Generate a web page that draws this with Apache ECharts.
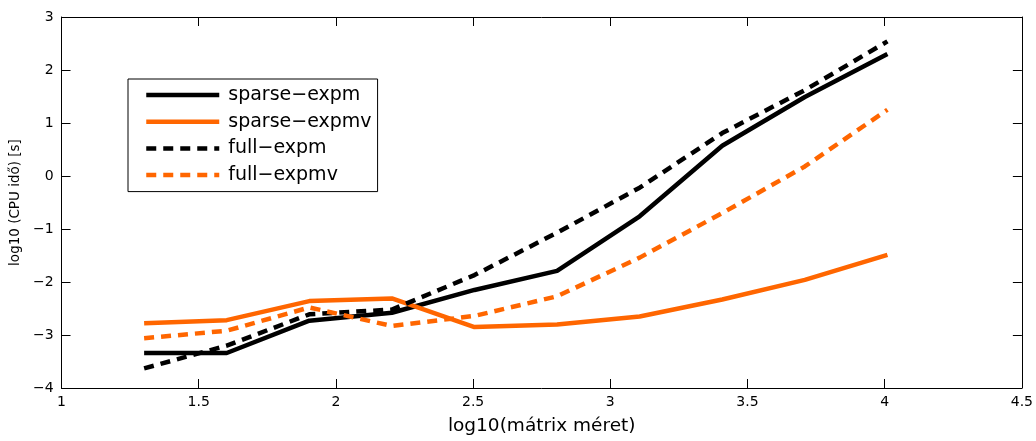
<!DOCTYPE html>
<html><head><meta charset="utf-8">
<script src="https://cdn.jsdelivr.net/npm/echarts@6/dist/echarts.min.js"></script>
<style>html,body{margin:0;padding:0;background:#fff;overflow:hidden}#c{width:1036px;height:441px}</style>
</head><body><div id="c"></div>
<script>
const xVals = [1.301, 1.602, 1.903, 2.204, 2.505, 2.806, 3.107, 3.408, 3.709, 4.010];
const sparseExpm  = [-3.34, -3.34, -2.73, -2.58, -2.15, -1.79, -0.76, 0.57, 1.49, 2.30];
const sparseExpmv = [-2.78, -2.72, -2.36, -2.31, -2.85, -2.80, -2.65, -2.33, -1.96, -1.49];
const fullExpm    = [-3.63, -3.20, -2.61, -2.52, -1.87, -1.07, -0.22, 0.81, 1.62, 2.54];
const fullExpmv   = [-3.06, -2.92, -2.48, -2.83, -2.64, -2.27, -1.54, -0.70, 0.18, 1.25];
const seriesNames = ['sparse\u2212expm', 'sparse\u2212expmv', 'full\u2212expm', 'full\u2212expmv'];
const xTitle = 'log10(mátrix méret)';
const yTitle = 'log10 (CPU idő) [s]';

const BLACK = '#000000', ORANGE = '#ff6600';
const FONT = '"DejaVu Sans", Verdana, sans-serif';
const pair = ys => xVals.map((x, i) => [x, ys[i]]);
const minus = v => String(v).replace('-', '\u2212');

const axisCommon = {
  axisLine: {show: true, onZero: false, lineStyle: {color: '#000', width: 1}},
  axisTick: {show: true, inside: true, length: 9, lineStyle: {color: '#000', width: 1}},
  splitLine: {show: false}
};
function mk(name, data, color, dashed) {
  return {
    name, type: 'line', data: pair(data), symbol: 'none', xAxisIndex: 0, yAxisIndex: 0,
    lineStyle: {color, width: 4.5, type: dashed ? [10, 7] : 'solid'},
    itemStyle: {color}, animation: false
  };
}
const chart = echarts.init(document.getElementById('c'));
chart.setOption({
  backgroundColor: '#fff',
  animation: false,
  textStyle: {fontFamily: FONT},
  grid: {left: 56, right: 13, top: 17, bottom: 46, containLabel: false},
  legend: {
    orient: 'vertical', left: 128, top: 79,
    itemWidth: 73, itemHeight: 19, itemGap: 7.7,
    padding: [6.5, 6, 7, 16],
    borderColor: '#000', borderWidth: 1, backgroundColor: '#fff',
    lineStyle: {width: 4.5},
    itemStyle: {opacity: 0},
    textStyle: {fontSize: 19, color: '#000', fontFamily: FONT, padding: [0, 0, 0, 4]},
    data: seriesNames
  },
  xAxis: [
    Object.assign({type: 'value', min: 1, max: 4.5, interval: 0.5, position: 'bottom',
      name: xTitle, nameLocation: 'middle', nameGap: 29,
      nameTextStyle: {fontSize: 18.5, color: '#000', fontFamily: FONT},
      axisLabel: {color: '#000', fontSize: 14, margin: 7, formatter: minus}}, axisCommon),
    Object.assign({type: 'value', min: 1, max: 4.5, interval: 0.5, position: 'top',
      axisLabel: {show: false}}, axisCommon)
  ],
  yAxis: [
    Object.assign({type: 'value', min: -4, max: 3, interval: 1, position: 'left',
      name: yTitle, nameLocation: 'middle', nameGap: 28, nameRotate: 90,
      nameTextStyle: {fontSize: 13.5, color: '#000', fontFamily: FONT},
      axisLabel: {color: '#000', fontSize: 14, margin: 8, formatter: minus}}, axisCommon),
    Object.assign({type: 'value', min: -4, max: 3, interval: 1, position: 'right',
      axisLabel: {show: false}}, axisCommon)
  ],
  series: [
    mk(seriesNames[0], sparseExpm, BLACK, false),
    mk(seriesNames[1], sparseExpmv, ORANGE, false),
    mk(seriesNames[2], fullExpm, BLACK, true),
    mk(seriesNames[3], fullExpmv, ORANGE, true)
  ]
});
</script></body></html>
